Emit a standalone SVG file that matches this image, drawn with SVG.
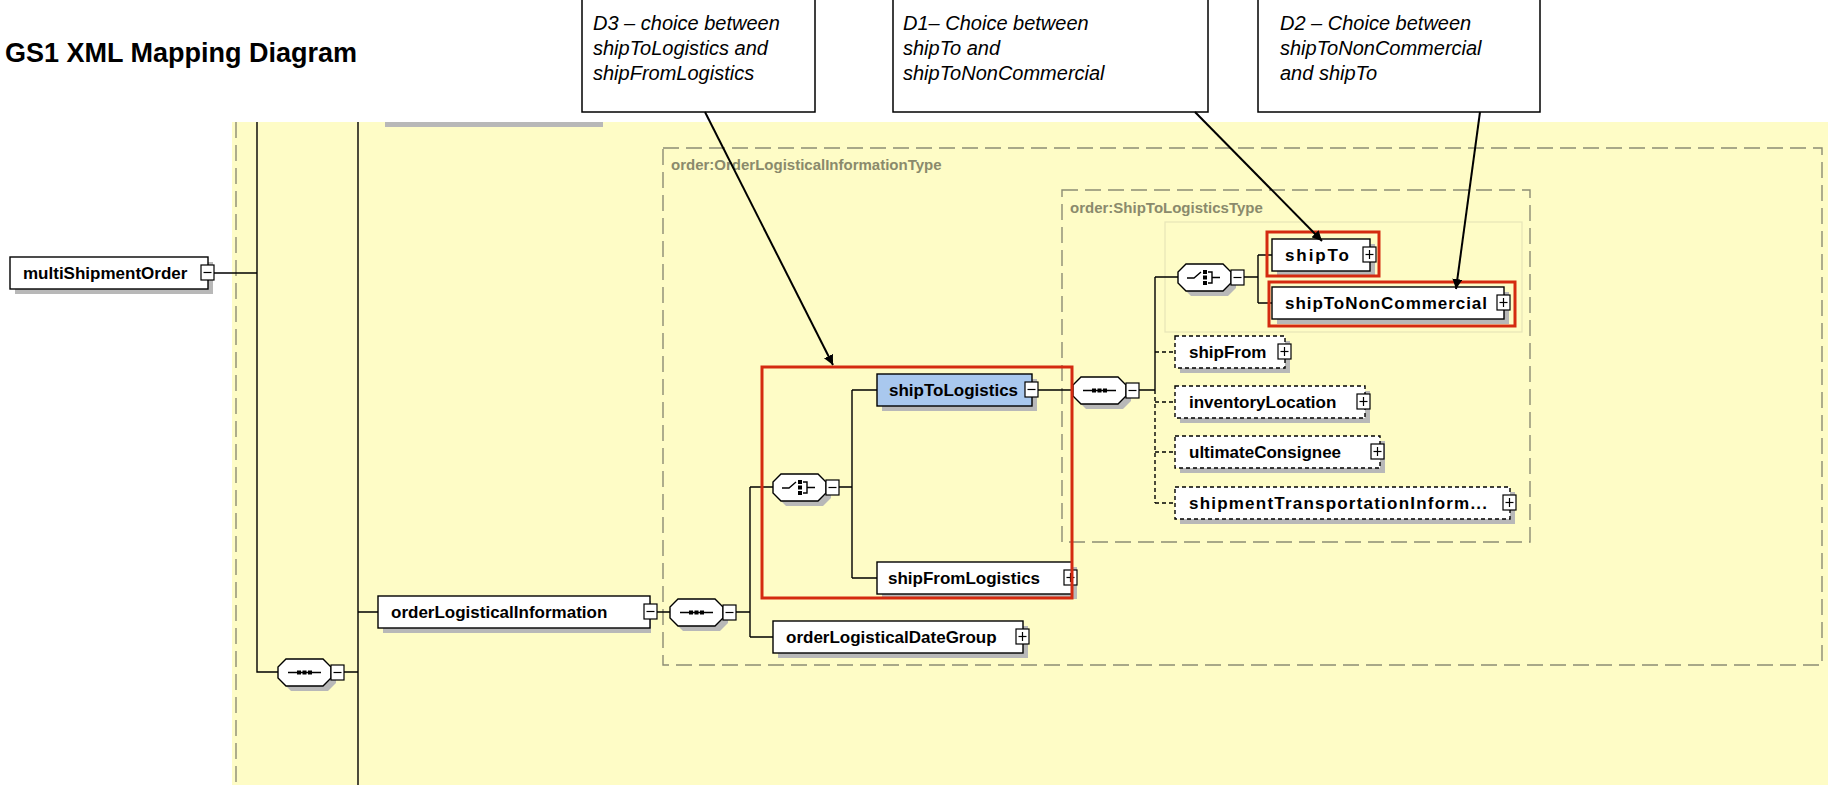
<svg xmlns="http://www.w3.org/2000/svg" xmlns:xlink="http://www.w3.org/1999/xlink" width="1839" height="785" viewBox="0 0 1839 785">
<style>
.bg{fill:#fefcc6}
.box{fill:#fff;stroke:#000;stroke-width:1.4}
.dbox{fill:#fff;stroke:#000;stroke-width:1.4;stroke-dasharray:4 3}
.blue{fill:#a9c8ee;stroke:#000;stroke-width:1.4}
.sh{fill:#b8b8b8}
.lbl{font-family:"Liberation Sans",Arial,sans-serif;font-weight:bold;font-size:17px;fill:#000}
.call{font-family:"Liberation Sans",Arial,sans-serif;font-style:italic;font-size:20px;fill:#000}
.title{font-family:"Liberation Sans",Arial,sans-serif;font-weight:bold;font-size:27px;fill:#000}
.type{font-family:"Liberation Sans",Arial,sans-serif;font-weight:bold;font-size:15px;fill:#8a8a6c}
.ln{stroke:#000;stroke-width:1.4;fill:none}
.dl{stroke:#000;stroke-width:1.4;fill:none;stroke-dasharray:4 3}
.red{fill:none;stroke:#d42a10;stroke-width:3}
.cont{fill:none;stroke:#8c8c74;stroke-width:1.4;stroke-dasharray:16 7}
.faint{fill:none;stroke:#e6e4b8;stroke-width:1.2}
.cbox{fill:#fff;stroke:#000;stroke-width:1.5}
.arr{stroke:#000;stroke-width:2;fill:none}
</style>
<defs>
<g id="minus"><rect x="0" y="0" width="13" height="15" fill="#fff" stroke="#000" stroke-width="1.2"/><line x1="2.5" y1="7.5" x2="10.5" y2="7.5" stroke="#000" stroke-width="1.2"/></g>
<g id="plus"><rect x="0" y="0" width="13" height="15" fill="#fff" stroke="#000" stroke-width="1.2"/><line x1="2.5" y1="7.5" x2="10.5" y2="7.5" stroke="#000" stroke-width="1.2"/><line x1="6.5" y1="3" x2="6.5" y2="12" stroke="#000" stroke-width="1.2"/></g>
<g id="oct"><path d="M13,5 H50 L58,13 V24 L50,32 H13 L5,24 V13 Z" fill="#b8b8b8"/><path d="M8,0 H45 L53,8 V19 L45,27 H8 L0,19 V8 Z" fill="#fff" stroke="#000" stroke-width="1.4"/></g>
<g id="seq"><use xlink:href="#oct"/><line x1="10" y1="13.5" x2="43" y2="13.5" stroke="#000" stroke-width="1.4"/><rect x="19" y="11.5" width="4" height="4" fill="#000"/><rect x="24.5" y="11.5" width="4" height="4" fill="#000"/><rect x="30" y="11.5" width="4" height="4" fill="#000"/></g>
<g id="cho"><use xlink:href="#oct"/><path d="M9,14 H16 L23,8" stroke="#000" stroke-width="1.4" fill="none"/><rect x="25" y="6" width="4" height="4" fill="#000"/><rect x="25" y="11.5" width="4" height="4" fill="#000"/><rect x="25" y="17" width="4" height="4" fill="#000"/><path d="M30,8 H34 V19 H30 M34,13.5 H42" stroke="#000" stroke-width="1.4" fill="none"/></g>
<marker id="ah" viewBox="0 0 10 10" refX="10" refY="5" markerWidth="10" markerHeight="10" orient="auto" markerUnits="userSpaceOnUse"><path d="M0,0 L10,5 L0,10 Z" fill="#000"/></marker>
</defs>
<rect x="0" y="0" width="1839" height="785" fill="#fff"/>
<rect class="bg" x="232" y="122" width="1596" height="663"/>
<rect x="385" y="122" width="218" height="5" fill="#b8b8b8"/>
<line x1="236" y1="122" x2="236" y2="785" class="cont"/>
<rect class="cont" x="663" y="148" width="1159" height="517"/>
<text class="type" x="671" y="170">order:OrderLogisticalInformationType</text>
<rect class="cont" x="1062" y="190" width="468" height="352"/>
<text class="type" x="1070" y="213">order:ShipToLogisticsType</text>
<rect class="faint" x="1165" y="222" width="357" height="110"/>
<text class="title" x="5" y="62">GS1 XML Mapping Diagram</text>

<g id="connectors">
<path class="ln" d="M214,273 H257 M257,122 V672 H278 M344,672 H358 M358,122 V785 M358,612 H378"/>
<path class="ln" d="M657,612 H670 M736,612 H750 M750,487 V637 M750,487 H773 M750,637 H773"/>
<path class="ln" d="M839,487 H852 M852,390 V578 M852,390 H877 M852,578 H877"/>
<path class="ln" d="M1038,390 H1073 M1139,390 H1155 M1155,277 V390 M1155,277 H1178"/>
<path class="dl" d="M1155,390 V503 M1155,352 H1175 M1155,402 H1175 M1155,452 H1175 M1155,503 H1175"/>
<path class="ln" d="M1244,277 H1258 M1258,255 V303 M1258,255 H1272 M1258,303 H1272"/>
</g>

<g id="multiShipmentOrder"><rect class="sh" x="15" y="262" width="198" height="32"/><rect class="box" x="10" y="257" width="198" height="32"/><text class="lbl" x="23" y="279">multiShipmentOrder</text><use xlink:href="#minus" x="201" y="265"/></g>
<g id="seqLeft"><use xlink:href="#seq" x="278" y="659"/><use xlink:href="#minus" x="331" y="665"/></g>
<g id="orderLogisticalInformation"><rect class="sh" x="383" y="601" width="268" height="32"/><rect class="box" x="378" y="596" width="272" height="32"/><text class="lbl" x="391" y="618">orderLogisticalInformation</text><use xlink:href="#minus" x="644" y="604"/></g>
<g id="seqMid"><use xlink:href="#seq" x="670" y="599"/><use xlink:href="#minus" x="723" y="605"/></g>
<g id="choiceMid"><use xlink:href="#cho" x="773" y="474"/><use xlink:href="#minus" x="826" y="480"/></g>
<g id="shipToLogistics"><rect class="sh" x="882" y="379" width="155" height="32"/><rect class="blue" x="877" y="374" width="155" height="32"/><text class="lbl" x="889" y="396">shipToLogistics</text><use xlink:href="#minus" x="1025" y="382"/></g>
<g id="shipFromLogistics"><rect class="sh" x="882" y="567" width="195" height="32"/><rect class="box" x="877" y="562" width="195" height="32"/><text class="lbl" x="888" y="584">shipFromLogistics</text><use xlink:href="#plus" x="1064" y="570"/></g>
<g id="orderLogisticalDateGroup"><rect class="sh" x="778" y="626" width="250" height="32"/><rect class="box" x="773" y="621" width="250" height="32"/><text class="lbl" x="786" y="643">orderLogisticalDateGroup</text><use xlink:href="#plus" x="1016" y="629"/></g>
<g id="seqRight"><use xlink:href="#seq" x="1073" y="377"/><use xlink:href="#minus" x="1126" y="383"/></g>
<g id="choiceRight"><use xlink:href="#cho" x="1178" y="264"/><use xlink:href="#minus" x="1231" y="270"/></g>
<g id="shipTo"><rect class="sh" x="1277" y="244" width="98" height="32"/><rect class="box" x="1272" y="239" width="98" height="32"/><text class="lbl" x="1285" y="261" textLength="64" lengthAdjust="spacing">shipTo</text><use xlink:href="#plus" x="1363" y="247"/></g>
<g id="shipToNonCommercial"><rect class="sh" x="1277" y="292" width="232" height="32"/><rect class="box" x="1272" y="287" width="232" height="32"/><text class="lbl" x="1285" y="309" textLength="202" lengthAdjust="spacing">shipToNonCommercial</text><use xlink:href="#plus" x="1497" y="295"/></g>
<g id="shipFrom"><rect class="sh" x="1180" y="341" width="110" height="32"/><rect class="dbox" x="1175" y="336" width="110" height="32"/><text class="lbl" x="1189" y="358">shipFrom</text><use xlink:href="#plus" x="1278" y="344"/></g>
<g id="inventoryLocation"><rect class="sh" x="1180" y="391" width="190" height="32"/><rect class="dbox" x="1175" y="386" width="190" height="32"/><text class="lbl" x="1189" y="408">inventoryLocation</text><use xlink:href="#plus" x="1357" y="394"/></g>
<g id="ultimateConsignee"><rect class="sh" x="1180" y="441" width="205" height="32"/><rect class="dbox" x="1175" y="436" width="205" height="32"/><text class="lbl" x="1189" y="458">ultimateConsignee</text><use xlink:href="#plus" x="1371" y="444"/></g>
<g id="shipmentTransportationInformation"><rect class="sh" x="1180" y="492" width="335" height="32"/><rect class="dbox" x="1175" y="487" width="335" height="32"/><text class="lbl" x="1189" y="509" textLength="298" lengthAdjust="spacing">shipmentTransportationInform...</text><use xlink:href="#plus" x="1503" y="495"/></g>

<g id="highlights">
<rect class="red" x="762" y="367" width="310" height="231"/>
<rect class="red" x="1267" y="232" width="112" height="44"/>
<rect class="red" x="1269" y="282" width="246" height="44"/>
</g>

<g id="callD3"><rect class="cbox" x="582" y="-1" width="233" height="113"/><text class="call" x="593" y="30">D3 – choice between</text><text class="call" x="593" y="55">shipToLogistics and</text><text class="call" x="593" y="80">shipFromLogistics</text></g>
<g id="callD1"><rect class="cbox" x="893" y="-1" width="315" height="113"/><text class="call" x="903" y="30">D1– Choice between</text><text class="call" x="903" y="55">shipTo and</text><text class="call" x="903" y="80">shipToNonCommercial</text></g>
<g id="callD2"><rect class="cbox" x="1258" y="-1" width="282" height="113"/><text class="call" x="1280" y="30">D2 – Choice between</text><text class="call" x="1280" y="55">shipToNonCommercial</text><text class="call" x="1280" y="80">and shipTo</text></g>

<g id="arrows">
<line class="arr" x1="705" y1="112" x2="833" y2="365" marker-end="url(#ah)"/>
<line class="arr" x1="1195" y1="112" x2="1322" y2="241" marker-end="url(#ah)"/>
<line class="arr" x1="1480" y1="112" x2="1456" y2="289" marker-end="url(#ah)"/>
</g>
</svg>
